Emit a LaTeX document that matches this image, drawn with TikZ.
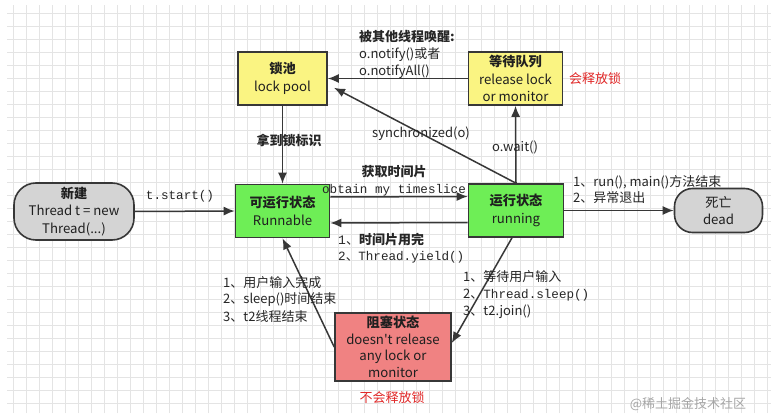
\documentclass[tikz,border=0pt]{standalone}
\usepackage{fontspec}
\setmainfont{Noto Sans CJK SC}[Ligatures=TeXOff]
\newfontfamily\mono{Liberation Mono}
\usetikzlibrary{arrows.meta}
\definecolor{gbox}{RGB}{110,238,86}
\definecolor{ybox}{RGB}{250,244,130}
\definecolor{rbox}{RGB}{240,130,130}
\definecolor{grbox}{RGB}{212,212,212}
\definecolor{ln}{RGB}{55,55,55}
\definecolor{gridc}{RGB}{228,228,228}
\definecolor{redtxt}{RGB}{225,40,40}
\newcommand{\dun}{{\rmfamily 、}}
\tikzset{
  box/.style={draw=ln, line width=1.6pt, inner sep=0pt, align=center, text=black!88,
    font=\fontsize{13.2}{17.5}\selectfont},
  arr/.style={draw=ln, line width=1.5pt, -{Latex[length=11pt,width=9pt]}},
  lbl/.style={inner sep=0pt, text=black!85, font=\fontsize{13}{17}\selectfont},
  monolbl/.style={inner sep=0pt, text=black!85, font=\mono\fontsize{12.6}{17}\selectfont},
  redlbl/.style={inner sep=0pt, text=redtxt, font=\fontsize{13}{17}\selectfont},
}
\begin{document}
\begin{tikzpicture}[x=1pt,y=-1pt]
\useasboundingbox (0,0) rectangle (784,417);
\fill[white] (0,0) rectangle (784,417);
\draw[gridc, line width=0.6pt, step=13pt] (7,5) grid (771,413);

% nodes
\node[box, fill=grbox, rounded corners=22pt, minimum width=120pt, minimum height=57pt]
  (new) at (74,211.5) {\textbf{新建}\\Thread t = new\\Thread(...)};
\node[box, fill=gbox, minimum width=94pt, minimum height=53pt]
  (runnable) at (282.5,211) {\textbf{可运行状态}\\Runnable};
\node[box, fill=gbox, minimum width=95pt, minimum height=53pt]
  (running) at (516,210.5) {\textbf{运行状态}\\running};
\node[box, fill=grbox, rounded corners=18pt, minimum width=88pt, minimum height=44pt]
  (dead) at (718.5,210.5) {死亡\\dead};
\node[box, fill=ybox, minimum width=89pt, minimum height=53pt]
  (lockpool) at (282.5,78.5) {\textbf{锁池}\\lock pool};
\node[box, fill=ybox, minimum width=94pt, minimum height=53pt]
  (waitq) at (515.5,78.5) {\textbf{等待队列}\\release lock\\or monitor};
\node[box, fill=rbox, minimum width=116pt, minimum height=68pt,
  font=\fontsize{13.2}{16.5}\selectfont]
  (blocked) at (393,347) {\textbf{阻塞状态}\\doesn't release\\any lock or\\monitor};

% connectors
\draw[arr] (new.east) -- (runnable.west);
\draw[arr] (lockpool.south) -- (runnable.north);
\draw[arr] ([yshift=14pt]runnable.east) -- ([yshift=14pt]running.west);
\draw[arr] ([yshift=-12pt]running.west) -- ([yshift=-12pt]runnable.east);
\draw[arr] (running.north) -- (waitq.south);
\draw[arr] (waitq.west) -- (lockpool.east);
\draw[arr, shorten >=7pt] (running.north) -- ([yshift=-6pt]lockpool.east);
\draw[arr] ([xshift=-4pt]running.south) -- ([yshift=4pt]blocked.east);
\draw[arr] (blocked.west) -- (runnable.south);
\draw[arr] (running.east) -- (dead.west);

% labels
\node[monolbl] (l1) at (180,196) {t.start()};
\node[lbl] (l2) at (289,140) {\textbf{拿到锁标识}};
\node[lbl] (l3) at (394,172) {\textbf{获取时间片}};
\node[monolbl] (l4) at (394,190) {obtain my timeslice};
\node[lbl, anchor=west] (l5) at (338,240) {{\mono 1}、\textbf{时间片用完}};
\node[monolbl, anchor=west] (l6) at (338,257) {2\dun Thread.yield()};
\node[lbl, anchor=west] (l7) at (359,37) {\textbf{被其他线程唤醒:}};
\node[lbl, anchor=west] (l8) at (359,55) {o.notify()或者};
\node[lbl, anchor=west] (l9) at (359,72) {o.notifyAll()};
\node[redlbl] (l10) at (595,79) {会释放锁};
\node[lbl] (l11) at (421,134) {synchronized(o)};
\node[lbl] (l12) at (515,147) {o.wait()};
\node[lbl, anchor=west] (l13) at (573,182) {1、run(), main()方法结束};
\node[lbl, anchor=west] (l14) at (573,198) {2、异常退出};
\node[lbl, anchor=west] (l15) at (223,283) {1、用户输入完成};
\node[lbl, anchor=west] (l16) at (223,300) {2、sleep()时间结束};
\node[lbl, anchor=west] (l17) at (223,317) {3、t2线程结束};
\node[lbl, anchor=west] (l18) at (463,277) {1、等待用户输入};
\node[lbl, anchor=west] (l19) at (463,295) {2、{\mono\fontsize{12.6}{17}\selectfont Thread.sleep()}};
\node[lbl, anchor=west] (l20) at (463,312) {3、t2.join()};
\node[redlbl] (l21) at (392,398) {不会释放锁};
\node[inner sep=0pt, text=black!35, font=\fontsize{13}{15}\selectfont] (wm) at (688,404) {@稀土掘金技术社区};
\end{tikzpicture}
\end{document}
